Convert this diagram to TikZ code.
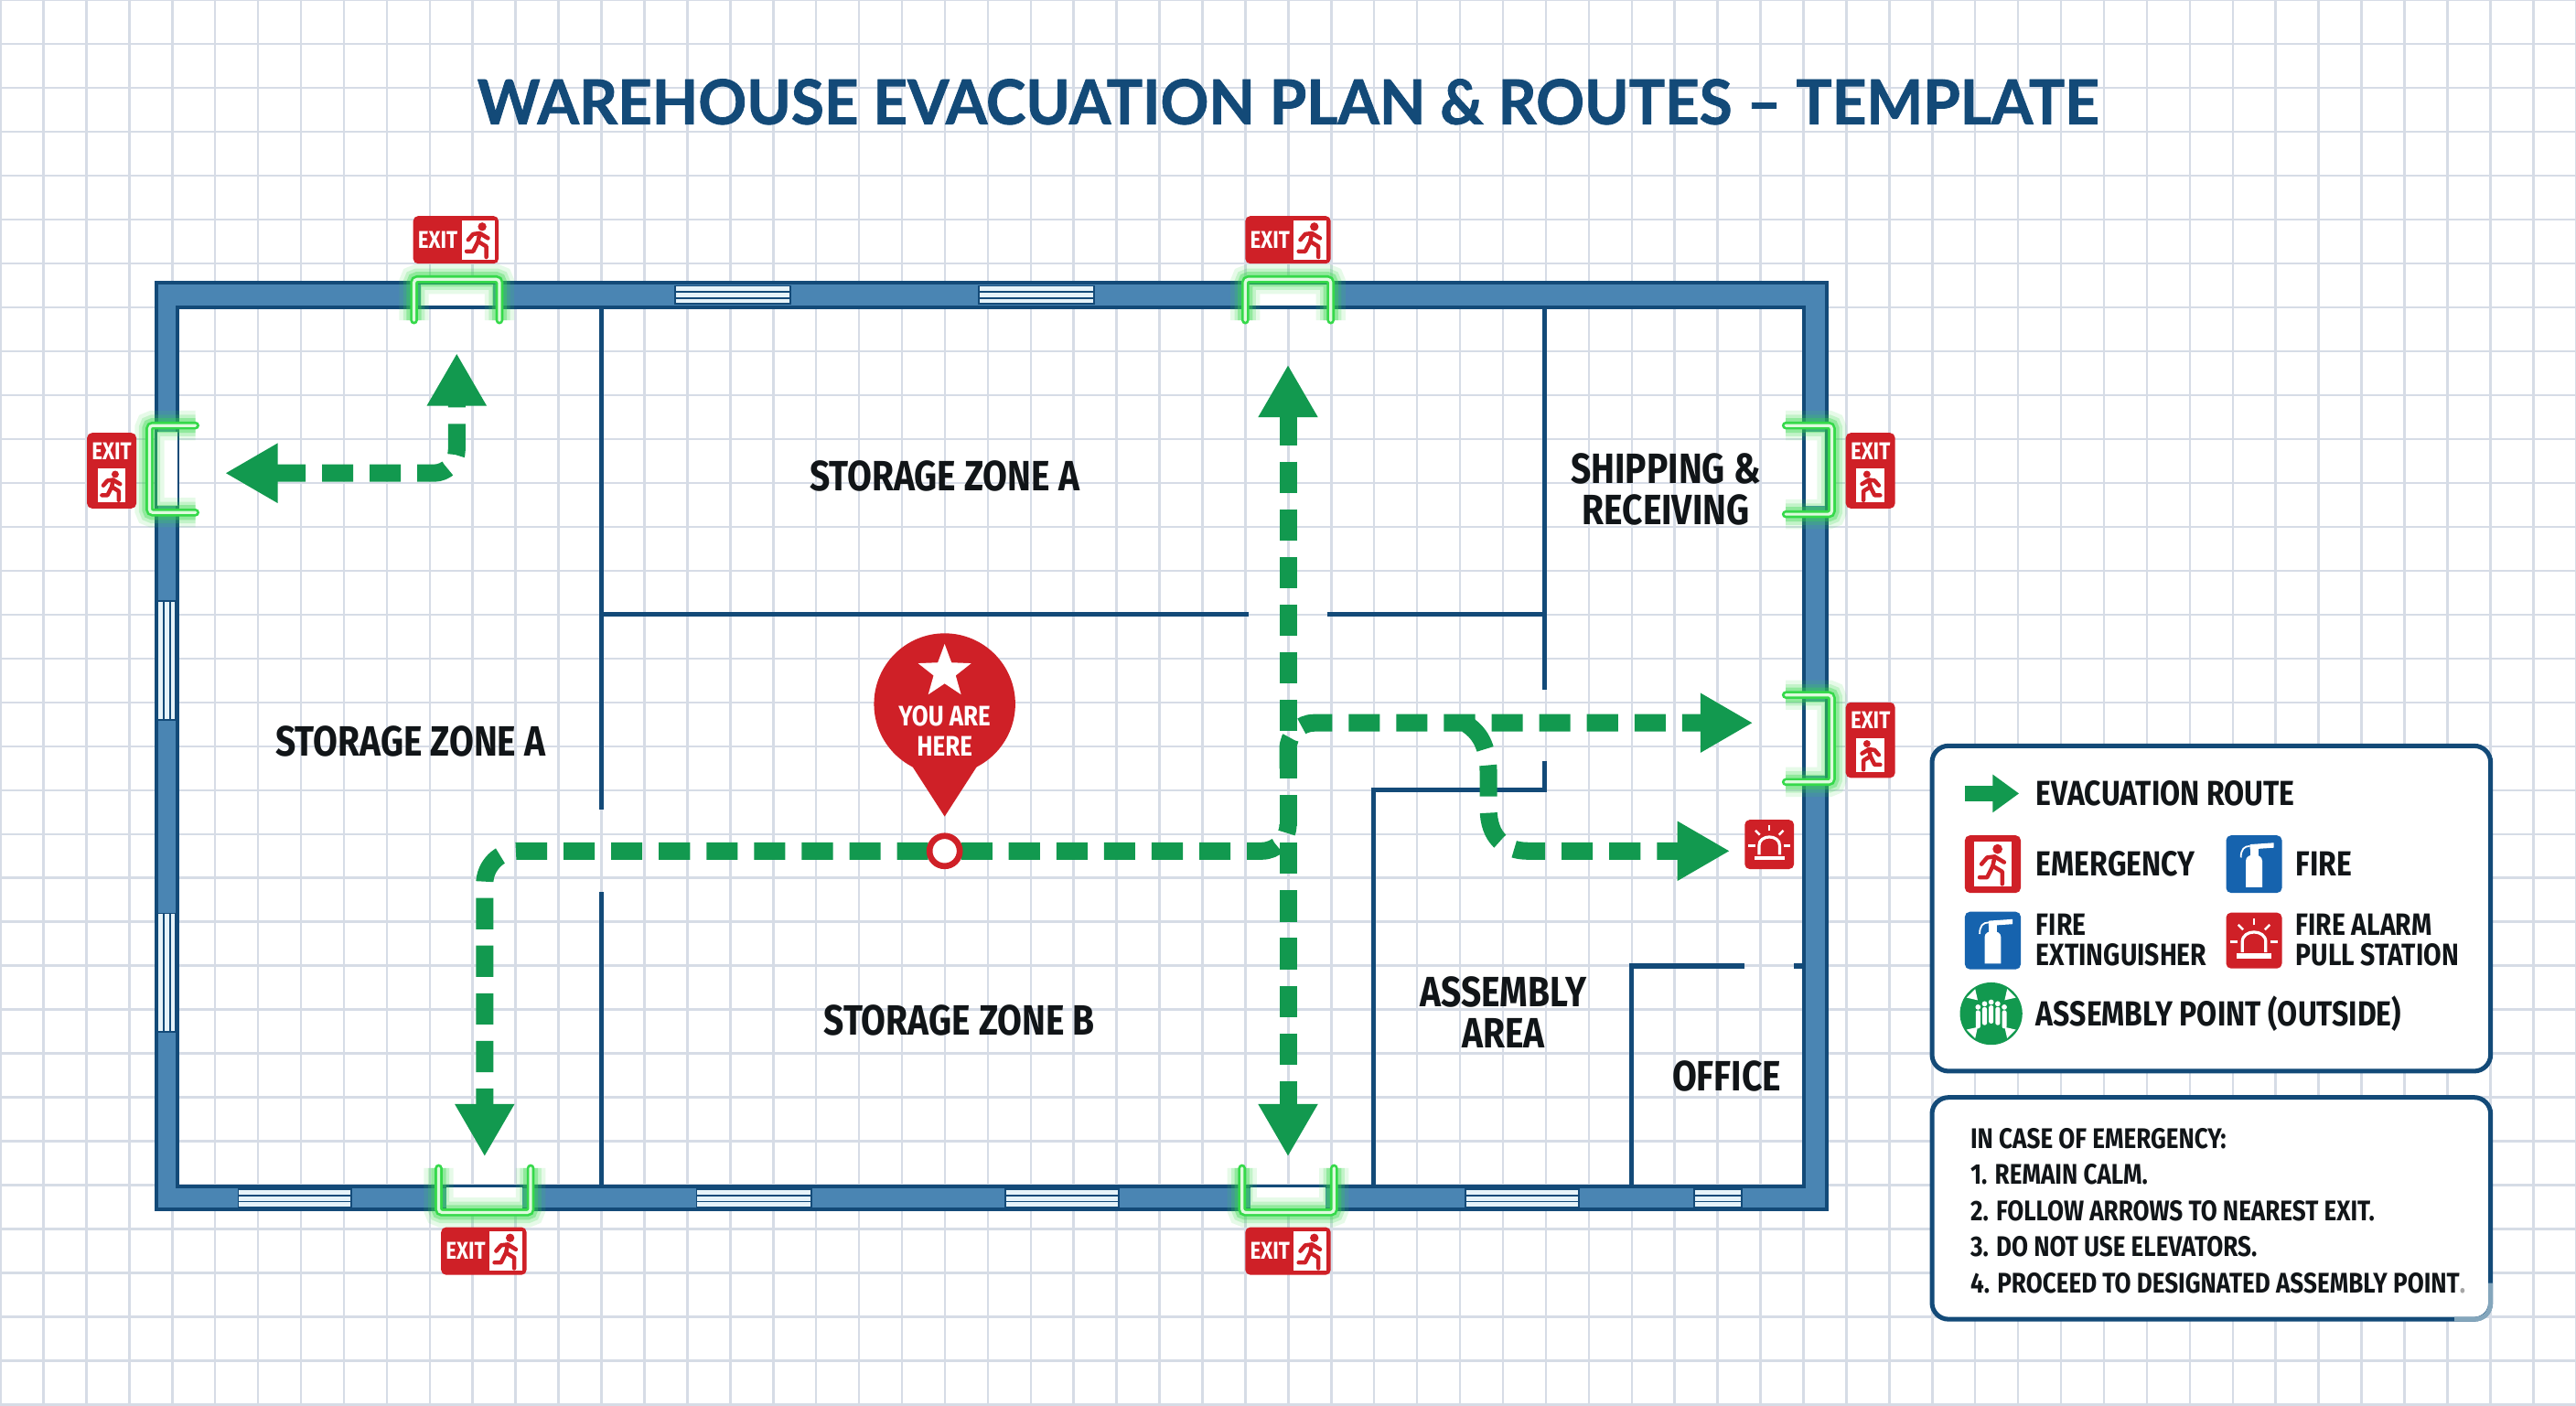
\documentclass[tikz,border=0pt]{standalone}
\usepackage{xcolor}
\usepackage{fontspec}
\setmainfont{Fira Sans}[FakeStretch=0.84]
\newfontfamily\titlefont{Lato}[FakeStretch=0.97, BoldFeatures={FakeBold=1.2}]
\usetikzlibrary{arrows.meta,shapes.geometric}
\definecolor{gridblue}{HTML}{D6DCE6}
\definecolor{navy}{HTML}{134A78}
\definecolor{wallblue}{HTML}{4A85B3}
\definecolor{routegreen}{HTML}{12994F}
\definecolor{doorgreen}{HTML}{35D94A}
\definecolor{doorlight}{HTML}{DDFBDD}
\definecolor{signred}{HTML}{CF2027}
\definecolor{signblue}{HTML}{1663AE}
\definecolor{inktext}{HTML}{111518}
\definecolor{winglass}{HTML}{E6F3F9}
\definecolor{fadedborder}{HTML}{84A6BC}

\begin{document}
\begin{tikzpicture}[
  x=0.5pt, y=-0.5pt,
  every node/.style={inner sep=0pt, align=center, text=inktext, font=\bfseries},
  gridline/.style={draw=gridblue, line width=0.7pt},
  partition/.style={draw=navy, line width=1.4pt},
  wallline/.style={draw=navy, line width=1.1pt},
  doorframe/.style={line width=2.4pt, draw=doorgreen, line cap=round, rounded corners=1pt,
    preaction={draw=doorgreen, draw opacity=.12, line width=9pt},
    preaction={draw=doorgreen, draw opacity=.2, line width=6.5pt},
    preaction={draw=doorgreen, draw opacity=.35, line width=4.5pt},
    postaction={draw=doorlight, line width=.9pt}},
  route/.style={draw=routegreen, line width=5.3pt, dash pattern=on 9.5pt off 5pt},
  routetip/.style={-{Triangle[length=16pt,width=17pt]}},
  routetips/.style={{Triangle[length=16pt,width=17pt]}-{Triangle[length=16pt,width=17pt]}},
  zonelabel/.style={font=\bfseries\fontsize{12.9}{12.5}\selectfont},
  keylabel/.style={font=\bfseries\fontsize{10.6}{9.5}\selectfont, anchor=west, align=left},
  keysmall/.style={font=\bfseries\fontsize{9.4}{9.2}\selectfont, anchor=west, align=left},
  legendbox/.style={draw=navy, line width=1.4pt, fill=white, rounded corners=5pt},
  signtext/.style={text=white, font=\bfseries\fontsize{7.4}{7.4}\selectfont},
  pics/exitman/.style={code={
    \fill[white] (-10,-12) rectangle (10,12);
    \fill[signred] (2.5,-8) circle (2.6);
    \draw[signred, line width=1.25pt, line cap=round, line join=round]
      (-7,7) -- (-3,7) -- (0,1) -- (1,-4) -- (6,-1);
    \draw[signred, line width=1.25pt, line cap=round, line join=round]
      (1,-4) -- (-3,-3.5) -- (-6,0) (0,1) -- (5,4) -- (5,10.5);
  }},
  pics/exitwide/.style={code={
    \fill[signred, rounded corners=1.5pt] (-26,-14.5) rectangle (26,14.5);
    \node[signtext] (-word) at (-11,0) {EXIT};
    \pic at (13.5,0) {exitman};
  }},
  pics/exittall/.style={code={
    \fill[signred, rounded corners=1.5pt] (-15,-23) rectangle (15,23);
    \node[signtext] (-word) at (0,-12) {EXIT};
    \pic[xscale=#1*.85, yscale=.85] at (0,9) {exitman};
  }},
  pics/exitbox/.style={code={
    \fill[signred, rounded corners=1.5pt] (-17,-17.5) rectangle (17,17.5);
    \pic[scale=1.15] at (0,0) {exitman};
  }},
  pics/extinguisher/.style={code={
    \fill[signblue, rounded corners=1.5pt] (-17,-17.5) rectangle (17,17.5);
    \fill[white] (-5,14) -- (-5,-2) .. controls (-5,-7) and (5,-7) .. (5,-2) -- (5,14) -- cycle;
    \fill[white] (-2.5,-10) rectangle (2.5,-5);
    \fill[white] (-2.5,-12) -- (12,-13) -- (12,-10) -- (-2.5,-9) -- cycle;
    \draw[white, line width=.5pt] (-2.5,-11) .. controls (-6,-11) and (-8,-9) .. (-8,-4);
  }},
  pics/alarmbox/.style={code={
    \fill[signred, rounded corners=1.5pt] (-#1,-#1) rectangle (#1,#1);
    \draw[white, line width=.9pt] (-.42*#1,.42*#1) -- (-.42*#1,.05*#1)
      .. controls (-.42*#1,-.42*#1) and (.42*#1,-.42*#1) .. (.42*#1,.05*#1) -- (.42*#1,.42*#1);
    \fill[white] (-.62*#1,.46*#1) rectangle (.62*#1,.64*#1);
    \foreach \ang in {225,270,315}
      \draw[white, line width=.7pt] (\ang:.55*#1) -- (\ang:.8*#1);
    \draw[white, line width=.7pt] (-.85*#1,.05*#1) -- (-.58*#1,.05*#1) (.58*#1,.05*#1) -- (.85*#1,.05*#1);
  }},
  pics/assembly/.style={code={
    \fill[routegreen] (0,0) circle (19);
    \foreach \ang in {45,135,225,315}
      \draw[white, line width=.8pt, -{Triangle[length=3pt,width=3.5pt]}] (\ang:16.5) -- (\ang:11.5);
    \foreach \off/\lift in {-8/1,-4/-1,0/-2,4/-1,8/1} {
      \fill[white] (\off,-5+\lift) circle (1.6);
      \fill[white, rounded corners=.6pt] (\off-1.4,-3+\lift) rectangle (\off+1.4,8+\lift);
    }
  }},
]
\useasboundingbox (0,0) rectangle (1568,855.3);
\fill[white] (0,0) rectangle (1568,855.3);
\foreach \i in {0,...,60}
  \draw[gridline] (0.3+26.13*\i,0) -- (0.3+26.13*\i,855.3);
\foreach \i in {0,...,32}
  \draw[gridline] (0,26.72*\i) -- (1568,26.72*\i);

\node[text=navy, font=\titlefont\bfseries\fontsize{18.8}{18.8}\selectfont] (title) at (784,62)
  {WAREHOUSE EVACUATION PLAN \& ROUTES – TEMPLATE};

\fill[wallblue, even odd rule] (95,172) rectangle (1112,736) (108,187) rectangle (1098,722);
\draw[wallline] (95,172) rectangle (1112,736);
\draw[wallline] (108,187) rectangle (1098,722);

\foreach \xa/\xb/\ya in {411/481/174,596/666/174,145/214/724,424/494/724,612/681/724,892/961/724,1031/1060/724} {
  \fill[winglass] (\xa,\ya) rectangle (\xb,\ya+11);
  \draw[navy, line width=.5pt] (\xa,\ya+3.7) -- (\xb,\ya+3.7) (\xa,\ya+7.4) -- (\xb,\ya+7.4);
  \draw[navy, line width=.5pt] (\xa,\ya) rectangle (\xb,\ya+11);
}
\foreach \ya/\yb in {366/438,556/628} {
  \fill[winglass] (96,\ya) rectangle (107,\yb);
  \draw[navy, line width=.5pt] (99.7,\ya) -- (99.7,\yb) (103.4,\ya) -- (103.4,\yb);
  \draw[navy, line width=.5pt] (96,\ya) rectangle (107,\yb);
}

\draw[partition] (366,187) -- (366,493);
\draw[partition] (366,543) -- (366,722);
\draw[partition] (366,374) -- (760,374);
\draw[partition] (808,374) -- (940,374);
\draw[partition] (940,187) -- (940,420);
\draw[partition] (940,463) -- (940,481) -- (836,481) -- (836,722);
\draw[partition] (993,722) -- (993,588) -- (1062,588);
\draw[partition] (1092,588) -- (1098,588);

\node[zonelabel] (zonetop) at (575,290) {STORAGE ZONE A};
\node[zonelabel] (zoneleft) at (250,451) {STORAGE ZONE A};
\node[zonelabel] (zonemid) at (584,621) {STORAGE ZONE B};
\node[zonelabel] (shipping) at (1014,298) {SHIPPING \&\\RECEIVING};
\node[zonelabel] (assemblyarea) at (915,616) {ASSEMBLY\\AREA};
\node[zonelabel] (office) at (1051,655) {OFFICE};

\foreach \xa/\xb/\ya in {256/300/173,760/808/173,272/318/723,761/807/723}
  \fill[white] (\xa,\ya) rectangle (\xb,\ya+13);
\foreach \ya/\yb/\xa in {263/308/96,263/308/1099,427/472/1099}
  \fill[white] (\xa,\ya) rectangle (\xa+12,\yb);

\coordinate (lefttip) at (137,288);
\coordinate (topatip) at (278,215);
\coordinate (home) at (575,518);
\coordinate (bottomatip) at (295,704);
\coordinate (maintop) at (784,222);
\coordinate (mainbottom) at (784,704);
\coordinate (righttip) at (1067,440);
\coordinate (alarmtip) at (1053,518);

\draw[route, routetips, rounded corners=7pt] (lefttip) -- (278,288) -- (topatip);
\draw[route, routetips] (maintop) -- (mainbottom);
\draw[route, routetip, dash phase=9.5pt, rounded corners=10pt] (home) -- (295,518) -- (bottomatip);
\draw[route, dash phase=9.5pt, rounded corners=8pt] (home) -- (784,518) -- (784,503);
\draw[route, routetip, rounded corners=8pt] (784,468) -- (784,440) -- (righttip);
\draw[route, routetip] (893,441) .. controls (902,447) and (906,456) .. (906,472) -- (906,492)
  .. controls (906,510) and (916,518) .. (930,518) -- (alarmtip);

\pic (alarmzone) at (1077,514) {alarmbox=15};

\fill[signred] (575,428.5) circle (43);
\fill[signred] (555,466) -- (595,466) -- (575,497) -- cycle;
\node[star, star points=5, star point ratio=2.4, fill=white, minimum size=17pt] (pinstar) at (575,409) {};
\node[text=white, font=\bfseries\fontsize{8.6}{9}\selectfont] (pintext) at (575,445) {YOU ARE\\HERE};
\node[circle, draw=signred, line width=1.85pt, fill=white, minimum size=9.2pt] (homemark) at (home) {};

\draw[doorframe] (252,195) -- (252,170) -- (304,170) -- (304,195);
\draw[doorframe] (758,195) -- (758,170) -- (810,170) -- (810,195);
\draw[doorframe] (267,711) -- (267,738) -- (323,738) -- (323,711);
\draw[doorframe] (756,711) -- (756,738) -- (812,738) -- (812,711);
\draw[doorframe] (119,259) -- (91,259) -- (91,312) -- (119,312);
\draw[doorframe] (1087,259) -- (1115,259) -- (1115,313) -- (1087,313);
\draw[doorframe] (1087,423) -- (1115,423) -- (1115,476) -- (1087,476);

\pic (exittopa) at (277.5,146) {exitwide};
\pic (exittopb) at (784,146) {exitwide};
\pic (exitbota) at (294.5,761.5) {exitwide};
\pic (exitbotb) at (784,761.5) {exitwide};
\pic (exitleft) at (68,286.5) {exittall=1};
\pic (exitrighta) at (1138.5,286.5) {exittall=-1};
\pic (exitrightb) at (1138.5,450.5) {exittall=-1};

\node[legendbox, minimum width=170pt, minimum height=99pt] (legendkey) at (1346,553) {};
\node[legendbox, minimum width=170pt, minimum height=67.5pt] (legendsteps) at (1346,735.5) {};
\draw[line width=1.4pt, draw=fadedborder] (1516,781) -- (1516,793) .. controls (1516,799) and (1512,803) .. (1506,803) -- (1494,803);

\coordinate (keytail) at (1196,483);
\coordinate (keyhead) at (1229,483);
\draw[routegreen, line width=4.5pt, -{Triangle[length=8pt,width=11pt]}] (keytail) -- (keyhead);
\node[keylabel] (keyroute) at (1239,483) {EVACUATION ROUTE};

\pic (iconemergency) at (1213,526) {exitbox};
\node[keylabel] (keyemergency) at (1239,526) {EMERGENCY};
\pic (iconfire) at (1372,526) {extinguisher};
\node[keylabel] (keyfire) at (1397,526) {FIRE};
\pic (iconextinguisher) at (1213,572.5) {extinguisher};
\node[keysmall] (keyextinguisher) at (1239,572) {FIRE\\EXTINGUISHER};
\pic (iconalarm) at (1372,572.5) {alarmbox=17};
\node[keysmall] (keyalarm) at (1397,572) {FIRE ALARM\\PULL STATION};
\pic (iconassembly) at (1212,617) {assembly};
\node[keylabel] (keyassembly) at (1239,617) {ASSEMBLY POINT (OUTSIDE)};

\node[anchor=west, align=left, font=\bfseries\fontsize{8.65}{11}\selectfont] (steps) at (1199,737)
  {IN CASE OF EMERGENCY:\\1. REMAIN CALM.\\2. FOLLOW ARROWS TO NEAREST EXIT.\\3. DO NOT USE ELEVATORS.\\4. PROCEED TO DESIGNATED ASSEMBLY POINT{\color{gray!70}.}};
\end{tikzpicture}
\end{document}
